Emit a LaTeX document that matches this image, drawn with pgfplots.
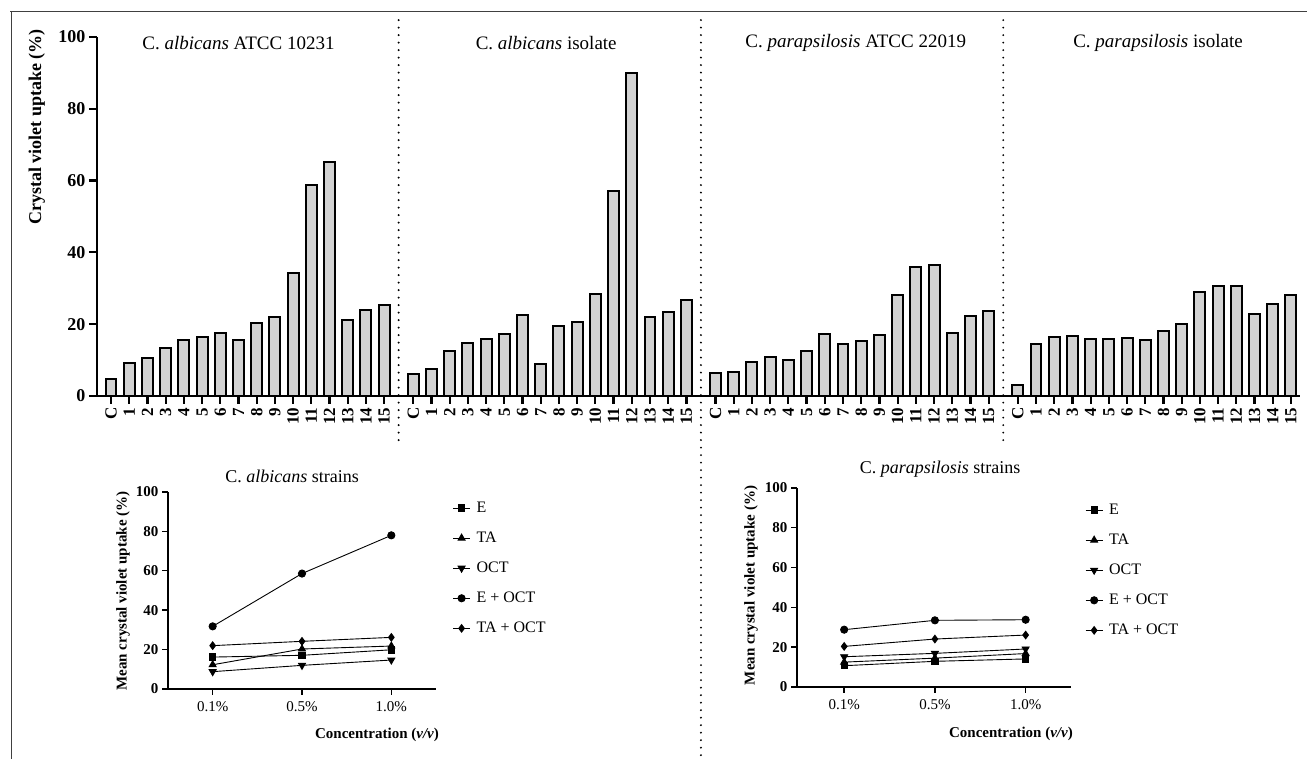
\documentclass[border=0pt]{standalone}
\usepackage{fontspec}
\setmainfont{Liberation Serif}
\usepackage{pgfplots}
\pgfplotsset{compat=1.18}
\usepackage{pgfplotstable}

% crystal violet uptake, 4 strains x (C, 1..15)
\pgfplotstableread{
x y
0 4.8
1 9.1
2 10.7
3 13.5
4 15.6
5 16.3
6 17.6
7 15.6
8 20.2
9 22.0
10 34.3
11 58.9
12 65.2
13 21.1
14 24.0
15 25.4
16.6 6.1
17.6 7.4
18.6 12.6
19.6 14.8
20.6 16.0
21.6 17.3
22.6 22.5
23.6 8.8
24.6 19.5
25.6 20.6
26.6 28.5
27.6 57.2
28.6 90.1
29.6 22.0
30.6 23.4
31.6 26.7
33.2 6.3
34.2 6.8
35.2 9.4
36.2 10.9
37.2 9.9
38.2 12.4
39.2 17.3
40.2 14.5
41.2 15.2
42.2 17.1
43.2 28.1
44.2 36.0
45.2 36.6
46.2 17.5
47.2 22.2
48.2 23.8
49.8 3.2
50.8 14.5
51.8 16.4
52.8 16.7
53.8 16.0
54.8 16.0
55.8 16.1
56.8 15.5
57.8 18.0
58.8 20.1
59.8 29.0
60.8 30.6
61.8 30.6
62.8 22.8
63.8 25.6
64.8 28.0
}\bars

\pgfplotsset{
  small/.style={
    scale only axis, anchor=south west,
    xmin=-0.5, xmax=2.5, ymin=0, ymax=100,
    axis lines*=left,
    axis line style={line width=1.6pt},
    tick align=outside, major tick length=6pt,
    tick style={line width=1.4pt, black},
    xtick={0,1,2}, xticklabels={0.1\%,0.5\%,1.0\%},
    ytick={0,20,...,100},
    /pgf/number format/assume math mode=true,
    yticklabel style={font=\bfseries\fontsize{15}{15}\selectfont},
    xticklabel style={font=\fontsize{15}{15}\selectfont, yshift=-3pt},
    clip=false,
    legend cell align=left,
    legend style={draw=none, fill=none, anchor=north west,
      font=\fontsize{16}{18}\selectfont, row sep=14pt,
      nodes={inner xsep=6pt}},
    every axis plot/.append style={black, line width=0.9pt},
  },
  sq/.style={mark=square*, mark size=3.2pt},
  tri/.style={mark=triangle*, mark size=4pt},
  itri/.style={mark=triangle*, mark size=4pt, mark options={rotate=180}},
  circ/.style={mark=*, mark size=3.6pt},
  diam/.style={mark=diamond*, mark size=3.8pt},
}

\tikzset{sep/.style={line width=2.2pt, dash pattern=on 0pt off 7.5pt, line cap=round}}

\begin{document}
\begin{tikzpicture}

\begin{axis}[
  at={(97pt,363pt)}, anchor=south west,
  scale only axis, width=1203pt, height=359pt,
  xmin=-0.77, xmax=65.3, ymin=0, ymax=100,
  axis lines*=left,
  axis line style={line width=2.4pt},
  tick align=outside, major tick length=8pt,
  tick style={line width=2.2pt, black},
  ytick={0,20,...,100},
  xtick=data,
  xticklabels={C,1,2,3,4,5,6,7,8,9,10,11,12,13,14,15,
               C,1,2,3,4,5,6,7,8,9,10,11,12,13,14,15,
               C,1,2,3,4,5,6,7,8,9,10,11,12,13,14,15,
               C,1,2,3,4,5,6,7,8,9,10,11,12,13,14,15},
  /pgf/number format/assume math mode=true,
  yticklabel style={font=\bfseries\fontsize{18}{18}\selectfont},
  xticklabel style={rotate=90, anchor=east, font=\bfseries\fontsize{17}{17}\selectfont},
  ylabel={Crystal violet uptake (\%)},
  ylabel style={at={(axis description cs:-0.05,0.749)}, anchor=center,
    font=\bfseries\fontsize{18}{18}\selectfont},
  clip=false,
]
\addplot[ybar, bar width=0.6, fill=gray!35, draw=black, line width=2pt]
  table[x=x, y=y] {\bars};
\node[font=\fontsize{19}{19}\selectfont] at (axis cs:7.0,98.3) {C. \textit{albicans} ATCC 10231};
\node[font=\fontsize{19}{19}\selectfont] at (axis cs:23.9,98.3) {C. \textit{albicans} isolate};
\node[font=\fontsize{19}{19}\selectfont] at (axis cs:40.9,98.3) {C. \textit{parapsilosis} ATCC 22019};
\node[font=\fontsize{19}{19}\selectfont] at (axis cs:57.5,98.3) {C. \textit{parapsilosis} isolate};
\draw[sep] (axis cs:15.8,104.7) -- (axis cs:15.8,-12.3);
\draw[sep] (axis cs:32.4,104.7) -- (axis cs:32.4,-101.1);
\draw[sep] (axis cs:49.0,104.7) -- (axis cs:49.0,-12.3);
\end{axis}

% C. albicans strains
\begin{axis}[small,
  at={(168pt,70pt)}, width=268pt, height=197pt,
  title={C. \textit{albicans} strains},
  title style={at={(axis description cs:0.463,1.05)}, anchor=center,
    font=\fontsize{18}{18}\selectfont},
  xlabel={Concentration (\textit{v/v})},
  xlabel style={at={(axis description cs:0.78,-0.234)}, anchor=center,
    font=\bfseries\fontsize{15}{15}\selectfont},
  ylabel={Mean crystal violet uptake (\%)},
  ylabel style={at={(axis description cs:-0.168,0.497)}, anchor=center,
    font=\bfseries\fontsize{15}{15}\selectfont},
  legend style={at={(axis description cs:1.05,0.97)}},
]
\addplot[sq]   coordinates {(0,16.2) (1,17.1) (2,19.9)};
\addplot[tri]  coordinates {(0,12.3) (1,20.3) (2,21.8)};
\addplot[itri] coordinates {(0,8.8) (1,12.0) (2,14.7)};
\addplot[circ] coordinates {(0,31.8) (1,58.6) (2,78.0)};
\addplot[diam] coordinates {(0,22.0) (1,24.2) (2,26.2)};
\legend{E, TA, OCT, E + OCT, TA + OCT}
\end{axis}

% C. parapsilosis strains
\begin{axis}[small,
  at={(797pt,72pt)}, width=274pt, height=199pt,
  xmin=-0.52,
  title={C. \textit{parapsilosis} strains},
  title style={at={(axis description cs:0.522,1.065)}, anchor=center,
    font=\fontsize{18}{18}\selectfont},
  xlabel={Concentration (\textit{v/v})},
  xlabel style={at={(axis description cs:0.781,-0.236)}, anchor=center,
    font=\bfseries\fontsize{15}{15}\selectfont},
  ylabel={Mean crystal violet uptake (\%)},
  ylabel style={at={(axis description cs:-0.168,0.51)}, anchor=center,
    font=\bfseries\fontsize{15}{15}\selectfont},
  legend style={at={(axis description cs:1.04,0.94)}},
]
\addplot[sq]   coordinates {(0,10.7) (1,12.9) (2,14.1)};
\addplot[tri]  coordinates {(0,12.5) (1,14.5) (2,16.8)};
\addplot[itri] coordinates {(0,15.2) (1,16.9) (2,19.1)};
\addplot[circ] coordinates {(0,28.8) (1,33.5) (2,33.8)};
\addplot[diam] coordinates {(0,20.4) (1,24.1) (2,26.1)};
\legend{E, TA, OCT, E + OCT, TA + OCT}
\end{axis}

% frame
\draw[line width=1pt, black!75] (10pt,747pt) -- (1307pt,747pt);
\draw[line width=1pt, black!75] (11pt,747pt) -- (11pt,0pt);

\pgfresetboundingbox
\path (0pt,0pt) rectangle (1307pt,759pt);
\end{tikzpicture}
\end{document}
